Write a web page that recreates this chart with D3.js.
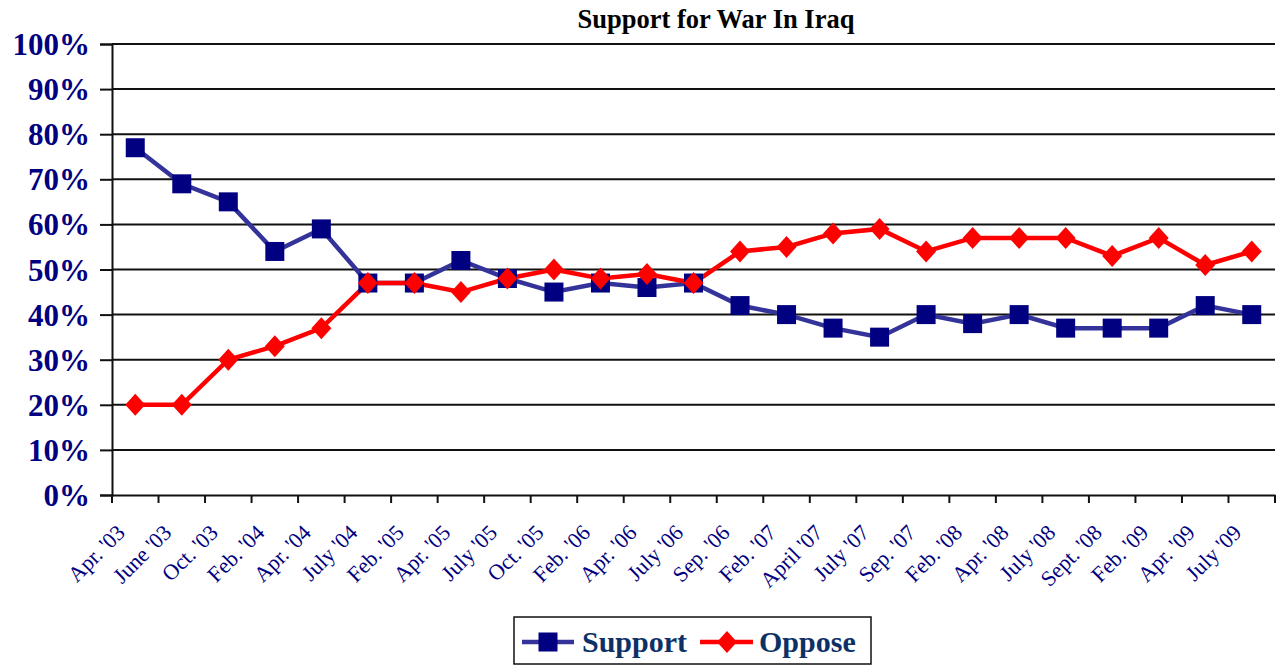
<!DOCTYPE html>
<html><head><meta charset="utf-8">
<script src="https://cdn.jsdelivr.net/npm/d3@7"></script>
<style>body{margin:0;background:#fff;} svg{display:block;}</style>
</head><body>
<svg id="c" width="1280" height="665"></svg>
<script>
const categories = ["Apr. '03","June '03","Oct. '03","Feb. '04","Apr. '04","July '04","Feb. '05","Apr. '05","July '05","Oct. '05","Feb. '06","Apr. '06","July '06","Sep. '06","Feb. '07","April '07","July '07","Sep. '07","Feb. '08","Apr. '08","July '08","Sept. '08","Feb. '09","Apr. '09","July '09"];
const support = [77,69,65,54,59,47,47,52,48,45,47,46,47,42,40,37,35,40,38,40,37,37,37,42,40];
const oppose  = [20,20,30,33,37,47,47,45,48,50,48,49,47,54,55,58,59,54,57,57,57,53,57,51,54];
const yTicks = [0,10,20,30,40,50,60,70,80,90,100];
const title = "Support for War In Iraq";

const svg = d3.select("#c");
const L = 112, R = 1275, T = 44, B = 495;
const x = d3.scaleBand().domain(categories).range([L, R]);
const y = d3.scaleLinear().domain([0,100]).range([B, T]);
const serif = "'Liberation Serif','Times New Roman',serif";

svg.append("text").attr("x", 716).attr("y", 28).attr("text-anchor","middle")
  .attr("font-family", serif).attr("font-weight","bold").attr("font-size", 26.5).text(title);

// gridlines
svg.append("g").selectAll("line").data(yTicks.filter(d=>d>0)).join("line")
  .attr("x1", L).attr("x2", R).attr("y1", d=>y(d)).attr("y2", d=>y(d))
  .attr("stroke","#111").attr("stroke-width",2);

// y axis
const ya = svg.append("g").attr("transform",`translate(${L},0)`)
  .call(d3.axisLeft(y).tickValues(yTicks).tickSize(12).tickPadding(10).tickFormat(d=>d+"%"));
ya.select(".domain").attr("stroke","#111").attr("stroke-width",2);
ya.selectAll(".tick line").attr("stroke","#111").attr("stroke-width",2);
ya.selectAll("text").attr("font-family", serif).attr("font-weight","bold").attr("font-size", 31)
  .attr("fill","#000080").attr("dy","0.34em");

// x axis
const xa = svg.append("g").attr("transform",`translate(0,${B})`)
  .call(d3.axisBottom(x).tickSize(0).tickFormat(""));
xa.select(".domain").attr("stroke","#111").attr("stroke-width",2);
const bounds = categories.map((c,i)=>L + i*x.step()).concat([R]);
xa.selectAll("line.tk").data(bounds).join("line").attr("class","tk")
  .attr("x1",d=>d).attr("x2",d=>d).attr("y1",0).attr("y2",8)
  .attr("stroke","#111").attr("stroke-width",2);
svg.append("g").selectAll("text").data(categories).join("text")
  .attr("transform", d=>`translate(${x(d)+x.bandwidth()/2-9},${B+39}) rotate(-45)`)
  .attr("text-anchor","end")
  .attr("font-family", serif).attr("font-size", 22).attr("fill","#000080").text(d=>d);

const cx = d => x(d) + x.bandwidth()/2;
const line = vals => d3.line().x((d,i)=>cx(categories[i])).y(d=>y(d))(vals);

const supCol = "#333399", supMk = "#000080", oppCol = "#ff0000";
svg.append("path").attr("d", line(support)).attr("fill","none").attr("stroke",supCol).attr("stroke-width",4.5);
svg.append("path").attr("d", line(oppose)).attr("fill","none").attr("stroke",oppCol).attr("stroke-width",4.5);

const sq = d3.symbol().type(d3.symbolSquare).size(361);
const dm = "M0,-11L10,0L0,11L-10,0Z";
svg.append("g").selectAll("path").data(support).join("path")
  .attr("d", sq).attr("transform",(d,i)=>`translate(${cx(categories[i])},${y(d)})`).attr("fill",supMk);
svg.append("g").selectAll("path").data(oppose).join("path")
  .attr("d", dm).attr("transform",(d,i)=>`translate(${cx(categories[i])},${y(d)})`).attr("fill",oppCol);

// legend
const lg = svg.append("g");
lg.append("rect").attr("x",514).attr("y",617).attr("width",357).attr("height",47)
  .attr("fill","#fff").attr("stroke","#111").attr("stroke-width",1.5);
lg.append("line").attr("x1",522).attr("x2",574).attr("y1",642).attr("y2",642).attr("stroke",supCol).attr("stroke-width",4.5);
lg.append("path").attr("d",sq).attr("transform","translate(548,642)").attr("fill",supMk);
lg.append("text").attr("x",582).attr("y",652).attr("font-family",serif).attr("font-weight","bold")
  .attr("font-size",30).attr("fill","#0d3166").text("Support");
lg.append("line").attr("x1",700).attr("x2",753).attr("y1",642).attr("y2",642).attr("stroke",oppCol).attr("stroke-width",4.5);
lg.append("path").attr("d",dm).attr("transform","translate(727,642)").attr("fill",oppCol);
lg.append("text").attr("x",759).attr("y",652).attr("font-family",serif).attr("font-weight","bold")
  .attr("font-size",30).attr("fill","#0d3166").text("Oppose");
</script>
</body></html>
